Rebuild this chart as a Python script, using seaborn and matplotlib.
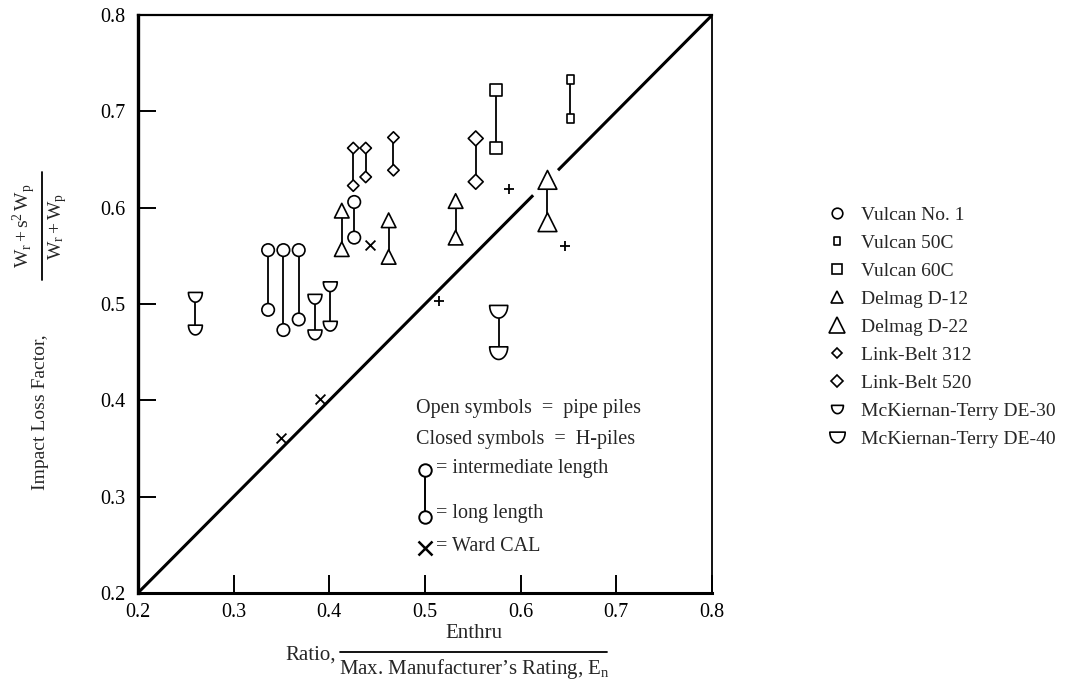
import numpy as np
import pandas as pd
import matplotlib
matplotlib.use("Agg")
import matplotlib.pyplot as plt
from matplotlib.path import Path
from matplotlib.lines import Line2D
import seaborn as sns

# ---- data: energy ratio and impact loss factor, intermediate (upper) and long (lower) piles
vulcan1_ratio = [0.336, 0.352, 0.368, 0.426]
vulcan1_inter = [0.556, 0.556, 0.556, 0.606]
vulcan1_long = [0.494, 0.473, 0.484, 0.569]

vulcan50_ratio = [0.652]
vulcan50_inter = [0.733]
vulcan50_long = [0.693]

vulcan60_ratio = [0.574]
vulcan60_inter = [0.722]
vulcan60_long = [0.662]

d12_ratio = [0.413, 0.462, 0.532]
d12_inter = [0.597, 0.587, 0.607]
d12_long = [0.557, 0.549, 0.569]

d22_ratio = [0.628]
d22_inter = [0.629]
d22_long = [0.585]

lb312_ratio = [0.425, 0.438, 0.467]
lb312_inter = [0.662, 0.662, 0.673]
lb312_long = [0.623, 0.632, 0.639]

lb520_ratio = [0.553]
lb520_inter = [0.672]
lb520_long = [0.627]

de30_ratio = [0.260, 0.385, 0.401]
de30_inter = [0.507, 0.505, 0.518]
de30_long = [0.473, 0.468, 0.477]

de40_ratio = [0.577]
de40_inter = [0.492]
de40_long = [0.449]

ward_ratio = [0.349, 0.390, 0.443]
ward_factor = [0.361, 0.401, 0.561]

plus_ratio = [0.515, 0.588, 0.646]
plus_factor = [0.503, 0.620, 0.560]

# line of equality, interrupted where it would cross the D-22 symbol
equality_lower = [0.2, 0.613]
equality_upper = [0.639, 0.8]

axis_ticks = [0.2, 0.3, 0.4, 0.5, 0.6, 0.7, 0.8]
tick_labels = ["0.2", "0.3", "0.4", "0.5", "0.6", "0.7", "0.8"]

hammers = ["Vulcan No. 1", "Vulcan 50C", "Vulcan 60C", "Delmag D-12", "Delmag D-22",
           "Link-Belt 312", "Link-Belt 520", "McKiernan-Terry DE-30", "McKiernan-Terry DE-40"]
series = [
    (vulcan1_ratio, vulcan1_inter, vulcan1_long),
    (vulcan50_ratio, vulcan50_inter, vulcan50_long),
    (vulcan60_ratio, vulcan60_inter, vulcan60_long),
    (d12_ratio, d12_inter, d12_long),
    (d22_ratio, d22_inter, d22_long),
    (lb312_ratio, lb312_inter, lb312_long),
    (lb520_ratio, lb520_inter, lb520_long),
    (de30_ratio, de30_inter, de30_long),
    (de40_ratio, de40_inter, de40_long),
]

rows = []
for name, (r, hi, lo) in zip(hammers, series):
    for x, a, b in zip(r, hi, lo):
        rows.append((name, x, a, "intermediate"))
        rows.append((name, x, b, "long"))
df = pd.DataFrame(rows, columns=["hammer", "ratio", "factor", "length"])

# ---- marker shapes
theta = np.linspace(np.pi, 2 * np.pi, 41)
bowl = np.column_stack([np.cos(theta), 1.4 * np.sin(theta) + 0.7])
bowl = np.vstack([bowl, bowl[:1]])
half_moon = Path(bowl, closed=True)
tall_rect = Path([(-0.4, -0.5), (0.4, -0.5), (0.4, 0.5), (-0.4, 0.5), (-0.4, -0.5)], closed=True)

marker_map = {
    "Vulcan No. 1": "o", "Vulcan 50C": tall_rect, "Vulcan 60C": "s",
    "Delmag D-12": "^", "Delmag D-22": "^",
    "Link-Belt 312": "D", "Link-Belt 520": "D",
    "McKiernan-Terry DE-30": half_moon, "McKiernan-Terry DE-40": half_moon,
}
msize = {
    "Vulcan No. 1": 9.0, "Vulcan 50C": 6.5, "Vulcan 60C": 8.5,
    "Delmag D-12": 10.5, "Delmag D-22": 13.5,
    "Link-Belt 312": 5.8, "Link-Belt 520": 7.6,
    "McKiernan-Terry DE-30": 10.0, "McKiernan-Terry DE-40": 13.0,
}
size_map = {k: v ** 2 for k, v in msize.items()}

# ---- style
sns.set_style("ticks")
plt.rcParams["font.family"] = ["Liberation Serif", "DejaVu Serif"]
plt.rcParams["mathtext.fontset"] = "custom"
plt.rcParams["mathtext.rm"] = "Liberation Serif"
plt.rcParams["mathtext.it"] = "Liberation Serif:italic"
plt.rcParams["mathtext.bf"] = "Liberation Serif:bold"

W, H = 1073, 691
fig = plt.figure(figsize=(W / 100, H / 100), dpi=100)
ax = fig.add_axes([0.1286, 0.142, 0.535, 0.836])


def fx(px):
    return px / W


def fy(py):
    return 1 - py / H


ax.plot(equality_lower, equality_lower, color="black", lw=2.2, solid_capstyle="butt", zorder=1)
ax.plot(equality_upper, equality_upper, color="black", lw=2.2, solid_capstyle="butt", zorder=1)

for r, hi, lo in series:
    ax.vlines(r, lo, hi, color="black", lw=1.3, zorder=2)

sns.scatterplot(data=df, x="ratio", y="factor", style="hammer", markers=marker_map,
                size="hammer", sizes=size_map, style_order=hammers, size_order=hammers,
                color="white", edgecolor="black", linewidth=1.2, legend=False,
                zorder=3, ax=ax)
sns.scatterplot(x=ward_ratio, y=ward_factor, marker="x", s=50, color="black",
                linewidth=1.3, legend=False, zorder=3, ax=ax)
sns.scatterplot(x=plus_ratio, y=plus_factor, marker="+", s=60, color="black",
                linewidth=1.3, legend=False, zorder=3, ax=ax)

ax.set_xlim(0.2, 0.8)
ax.set_ylim(0.2, 0.8)
ax.set_xticks(axis_ticks)
ax.set_xticklabels(tick_labels)
ax.set_yticks(axis_ticks)
ax.set_yticklabels(tick_labels)
ax.tick_params(axis="both", direction="in", length=13, width=1.4, labelsize=14.5,
               color="black", labelcolor="black")
ax.tick_params(axis="x", pad=7)
ax.tick_params(axis="y", pad=9)
ax.set_xlabel("")
ax.set_ylabel("")

ax.spines["left"].set_linewidth(2.4)
ax.spines["bottom"].set_linewidth(2.2)
ax.spines["top"].set_linewidth(1.6)
ax.spines["right"].set_linewidth(1.3)
for s in ax.spines.values():
    s.set_color("black")

# ---- x-axis title: Ratio, Enthru / Max. Manufacturer's Rating, En
lab_fs = 15
fig.text(fx(474), fy(634), "Enthru", fontsize=lab_fs, ha="center", va="center")
fig.add_artist(Line2D([fx(340), fx(607)], [fy(652), fy(652)], color="black", lw=1.3))
fig.text(fx(474), fy(669), "Max. Manufacturer’s Rating, E$_\\mathrm{n}$", fontsize=lab_fs,
         ha="center", va="center")
fig.text(fx(336), fy(655), "Ratio,", fontsize=lab_fs, ha="right", va="center")

# ---- y-axis title: Impact Loss Factor, (Wr + s^2 Wp) / (Wr + Wp)
fig.text(fx(41), fy(412), "Impact Loss Factor,", fontsize=14, rotation=90,
         ha="center", va="center")
fig.text(fx(24), fy(226), r"$\mathrm{W_r + s^2\,W_p}$", fontsize=14, rotation=90,
         ha="center", va="center")
fig.add_artist(Line2D([fx(42), fx(42)], [fy(172), fy(280)], color="black", lw=1.3))
fig.text(fx(58), fy(226), r"$\mathrm{W_r + W_p}$", fontsize=14, rotation=90,
         ha="center", va="center")

# ---- key inside the axes
key_fs = 14.5
ax.text(0.484, 0.32, "Open symbols  =  pipe piles", transform=ax.transAxes,
        fontsize=key_fs, va="center", ha="left")
ax.text(0.484, 0.265, "Closed symbols  =  H-piles", transform=ax.transAxes,
        fontsize=key_fs, va="center", ha="left")
ax.plot([0.5, 0.5], [0.131, 0.213], transform=ax.transAxes, color="black", lw=1.4, zorder=4)
ax.plot([0.5, 0.5], [0.131, 0.213], transform=ax.transAxes, ls="none", marker="o",
        ms=9, mfc="white", mec="black", mew=1.4, zorder=5)
ax.plot([0.5], [0.078], transform=ax.transAxes, ls="none", marker="x",
        ms=10, mec="black", mew=1.8, zorder=5)
ax.text(0.519, 0.216, "= intermediate length", transform=ax.transAxes,
        fontsize=key_fs, va="center", ha="left")
ax.text(0.519, 0.138, "= long length", transform=ax.transAxes,
        fontsize=key_fs, va="center", ha="left")
ax.text(0.519, 0.081, "= Ward CAL", transform=ax.transAxes,
        fontsize=key_fs, va="center", ha="left")

# ---- hammer legend on the right
handles = [Line2D([], [], ls="none", marker=marker_map[h], ms=msize[h] * 0.85,
                  mfc="white", mec="black", mew=1.2) for h in hammers]
fig.legend(handles, hammers, loc="upper left", bbox_to_anchor=(0.764, 0.713),
           frameon=False, fontsize=14, handlelength=1.0, handletextpad=0.7,
           labelspacing=0.535, borderaxespad=0)

fig.savefig("out.png", dpi=100, facecolor="white")
